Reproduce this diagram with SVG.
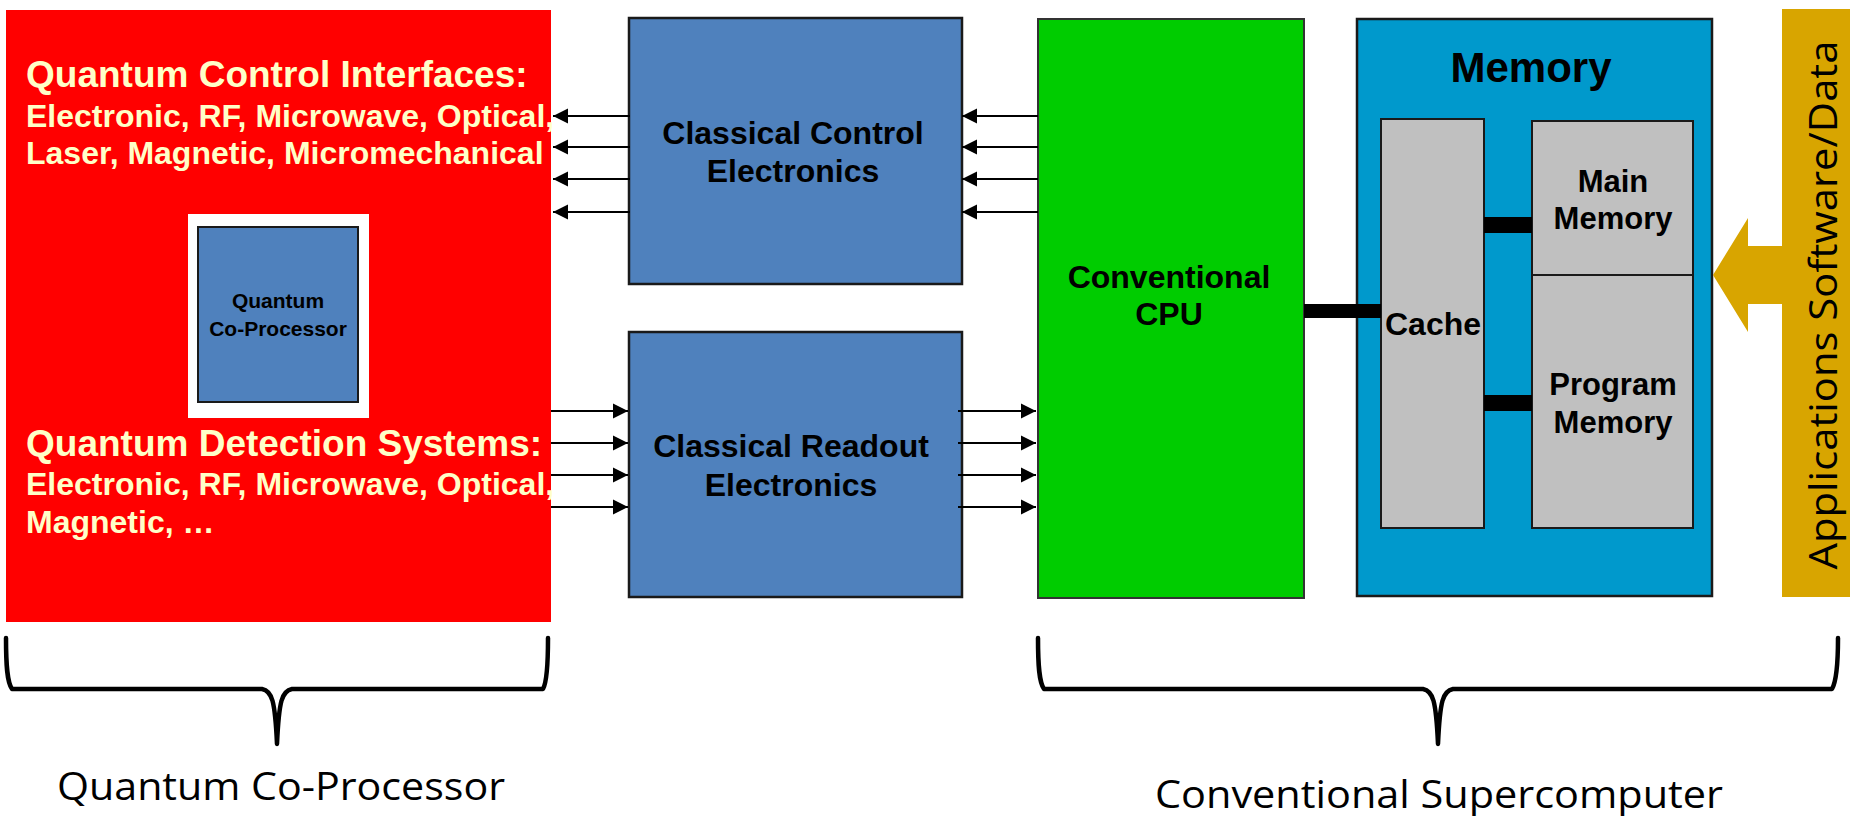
<svg xmlns="http://www.w3.org/2000/svg" width="1850" height="816" viewBox="0 0 1850 816">
<defs>
<style>
.b{font-family:"Liberation Sans",Arial,sans-serif;font-weight:bold;}
.y{fill:#FFFFC8;}
.k{fill:#000;}
.c{text-anchor:middle;}
.ln{stroke:#000;stroke-width:2;fill:none;}
.br{stroke:#000;stroke-width:4.5;fill:none;stroke-linecap:round;stroke-linejoin:round;}
.cal{font-family:"Open Sans","Noto Sans",sans-serif;fill:#000;}
.bluebox{fill:#4F81BD;stroke:#1a1a1a;stroke-width:2.5;}
.gray{fill:#C0C0C0;stroke:#1a1a1a;stroke-width:2;}
</style>
<marker id="ah" markerWidth="16" markerHeight="16" refX="15" refY="8" orient="auto" markerUnits="userSpaceOnUse">
<path d="M0,0.5 L15,8 L0,15.5 z" fill="#000"/>
</marker>
</defs>
<rect width="1850" height="816" fill="#fff"/>

<g id="quantum-coprocessor">
<rect x="6" y="10" width="545" height="612" fill="#FF0000"/>
<text class="b y" font-size="37" x="26" y="87">Quantum Control Interfaces:</text>
<text class="b y" font-size="32" x="26" y="127">Electronic, RF, Microwave, Optical,</text>
<text class="b y" font-size="32" x="26" y="164">Laser, Magnetic, Micromechanical</text>
<text class="b y" font-size="37" x="26" y="456">Quantum Detection Systems:</text>
<text class="b y" font-size="32" x="26" y="495">Electronic, RF, Microwave, Optical,</text>
<text class="b y" font-size="32" x="26" y="533">Magnetic, …</text>
</g>

<g id="quantum-core">
<rect x="188" y="214" width="181" height="204" fill="#fff"/>
<rect x="198" y="227" width="160" height="175" fill="#4F81BD" stroke="#1a1a1a" stroke-width="2"/>
<text class="b k c" font-size="21" x="278" y="308">Quantum</text>
<text class="b k c" font-size="21" x="278" y="336">Co-Processor</text>
</g>

<g id="classical-control">
<rect class="bluebox" x="629" y="18" width="333" height="266"/>
<text class="b k c" font-size="32" x="793" y="144">Classical Control</text>
<text class="b k c" font-size="32" x="793" y="182">Electronics</text>
</g>

<g id="classical-readout">
<rect class="bluebox" x="629" y="332" width="333" height="265"/>
<text class="b k c" font-size="32" x="791" y="457">Classical Readout</text>
<text class="b k c" font-size="32" x="791" y="496">Electronics</text>
</g>

<g id="cpu">
<rect x="1038" y="19" width="266" height="579" fill="#00CC00" stroke="#333" stroke-width="2"/>
<text class="b k c" font-size="32" x="1169" y="288">Conventional</text>
<text class="b k c" font-size="32" x="1169" y="325">CPU</text>
</g>

<g id="memory">
<rect x="1357" y="19" width="355" height="577" fill="#0099CC" stroke="#1a1a1a" stroke-width="2.5"/>
<text class="b k c" font-size="42" x="1531" y="82">Memory</text>
</g>

<g id="cache">
<rect class="gray" x="1381" y="119" width="103" height="409"/>
<text class="b k c" font-size="32" x="1433" y="335">Cache</text>
</g>

<g id="main-memory">
<rect class="gray" x="1532" y="121" width="161" height="154"/>
<text class="b k c" font-size="31" x="1613" y="192">Main</text>
<text class="b k c" font-size="31" x="1613" y="229">Memory</text>
</g>

<g id="program-memory">
<rect class="gray" x="1532" y="275" width="161" height="253"/>
<text class="b k c" font-size="31" x="1613" y="395">Program</text>
<text class="b k c" font-size="31" x="1613" y="433">Memory</text>
</g>

<g id="applications">
<rect x="1782" y="9" width="68" height="588" fill="#D8A500"/>
<polygon points="1713,275 1748,218 1748,246 1782,246 1782,304 1748,304 1748,332" fill="#D8A500"/>
<text class="cal c" font-size="39" transform="translate(1837,305) rotate(-90)" textLength="529" lengthAdjust="spacingAndGlyphs">Applications Software/Data</text>
</g>

<g id="connectors">
<line class="ln" x1="630" y1="116" x2="553" y2="116" marker-end="url(#ah)"/>
<line class="ln" x1="630" y1="147" x2="553" y2="147" marker-end="url(#ah)"/>
<line class="ln" x1="630" y1="179" x2="553" y2="179" marker-end="url(#ah)"/>
<line class="ln" x1="630" y1="212" x2="553" y2="212" marker-end="url(#ah)"/>
<line class="ln" x1="1038" y1="116" x2="962" y2="116" marker-end="url(#ah)"/>
<line class="ln" x1="1038" y1="147" x2="962" y2="147" marker-end="url(#ah)"/>
<line class="ln" x1="1038" y1="179" x2="962" y2="179" marker-end="url(#ah)"/>
<line class="ln" x1="1038" y1="212" x2="962" y2="212" marker-end="url(#ah)"/>
<line class="ln" x1="551" y1="411" x2="628" y2="411" marker-end="url(#ah)"/>
<line class="ln" x1="551" y1="443" x2="628" y2="443" marker-end="url(#ah)"/>
<line class="ln" x1="551" y1="475" x2="628" y2="475" marker-end="url(#ah)"/>
<line class="ln" x1="551" y1="507" x2="628" y2="507" marker-end="url(#ah)"/>
<line class="ln" x1="958" y1="411" x2="1036" y2="411" marker-end="url(#ah)"/>
<line class="ln" x1="958" y1="443" x2="1036" y2="443" marker-end="url(#ah)"/>
<line class="ln" x1="958" y1="475" x2="1036" y2="475" marker-end="url(#ah)"/>
<line class="ln" x1="958" y1="507" x2="1036" y2="507" marker-end="url(#ah)"/>
<rect x="1304" y="304" width="77" height="14" fill="#000"/>
<rect x="1484" y="217" width="48" height="16" fill="#000"/>
<rect x="1484" y="395" width="48" height="16" fill="#000"/>
</g>

<g id="brace-quantum">
<path class="br" d="M6,638 C6,665 7,682 12,689 L262,689 C272,691 275,700 277,744 C279,700 282,691 292,689 L543,689 C547,682 548,665 548,638"/>
<text class="cal c" font-size="39" x="281" y="800" textLength="448" lengthAdjust="spacingAndGlyphs">Quantum Co-Processor</text>
</g>

<g id="brace-conventional">
<path class="br" d="M1038,638 C1038,665 1039,682 1044,689 L1423,689 C1433,691 1436,700 1438,744 C1440,700 1443,691 1453,689 L1832,689 C1836,682 1838,665 1838,638"/>
<text class="cal c" font-size="39" x="1439" y="808" textLength="568" lengthAdjust="spacingAndGlyphs">Conventional Supercomputer</text>
</g>
</svg>
